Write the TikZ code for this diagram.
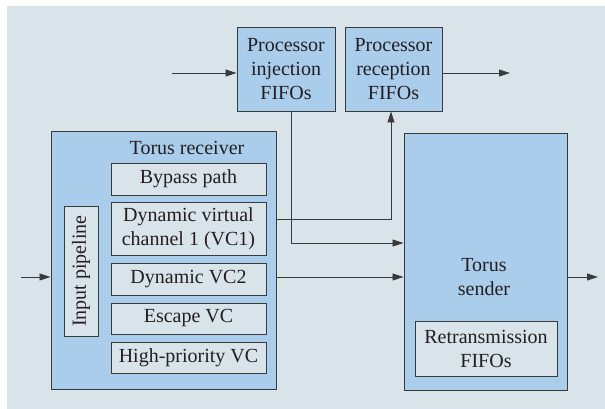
\documentclass[tikz,border=0pt]{standalone}
\usepackage{fontspec}
\setmainfont{LiberationSerif}[Extension=.ttf, UprightFont=*-Regular, BoldFont=*-Bold]
\usetikzlibrary{arrows.meta}
\definecolor{bgblue}{HTML}{D9E3EA}
\definecolor{boxblue}{HTML}{AACDEC}
\definecolor{edgegray}{HTML}{3A3A3A}
\definecolor{inkgray}{HTML}{231F20}
\tikzset{box/.style = {draw=edgegray, fill=boxblue, line width=0.9pt, inner sep=0, align=center, text=inkgray, font=\fontsize{20}{24}\selectfont}}
\tikzset{inbox/.style = {box, fill=bgblue}}
\tikzset{lbl/.style = {inner sep=0, align=center, text=inkgray, font=\fontsize{20}{24}\selectfont}}
\tikzset{arr/.style = {draw=edgegray, line width=0.8pt, -{Triangle[length=11pt, width=7pt]}}}

\begin{document}
\begin{tikzpicture}[x=1pt, y=-1pt]
      \useasboundingbox (0,0) rectangle (605,409);
      \fill [bgblue] (7,6) rectangle (605,409);
      \node [box, minimum width=98pt, minimum height=84pt] (inj) at (286,69) {Processor\\injection\\FIFOs};
      \node [box, minimum width=97pt, minimum height=84pt] (rec) at (393.5,69) {Processor\\reception\\FIFOs};
      \node [box, minimum width=225pt, minimum height=258pt] (recv) at (163.5,260) {};
      \node [lbl] (recvlbl) at (187,148) {Torus receiver};
      \foreach \n/\y/\h/\t in {bypass/179/32/Bypass path,
                               vcone/228.5/53/{Dynamic virtual\\channel 1 (VC1)},
                               vctwo/279/32/Dynamic VC2,
                               escape/318.5/31/Escape VC,
                               hipri/357.5/31/High-priority VC} {
        \node [inbox, minimum width=155pt, minimum height=\h pt] (\n) at (188.5,\y) {\t};
      }
      \node [inbox, rotate=90, minimum width=130pt, minimum height=34pt] (pipe) at (81,271) {Input pipeline};
      \node [box, minimum width=163pt, minimum height=257pt] (send) at (485.5,261.5) {};
      \node [lbl] (sendlbl) at (484,277) {Torus\\sender};
      \node [inbox, minimum width=142pt, minimum height=55pt] (retr) at (486,348.5) {Retransmission\\FIFOs};
      \coordinate (inL) at (172,73);
      \coordinate (outR) at (510,73);
      \coordinate (netin) at (21,277);
      \coordinate (netout) at (598,277);
      \draw [arr] (inL) -- (inj.west |- inL);
      \draw [arr] (rec.east |- outR) -- (outR);
      \draw [arr] (inj.south -| 291,0) |- (send.west |- 0,243);
      \draw [arr] (recv.east |- 0,219) -| (rec.south -| 391,0);
      \draw [arr] (recv.east |- netin) -- (send.west |- netin);
      \draw [arr] (netin) -- (recv.west |- netin);
      \draw [arr] (send.east |- netout) -- (netout);
    \end{tikzpicture}
\end{document}
